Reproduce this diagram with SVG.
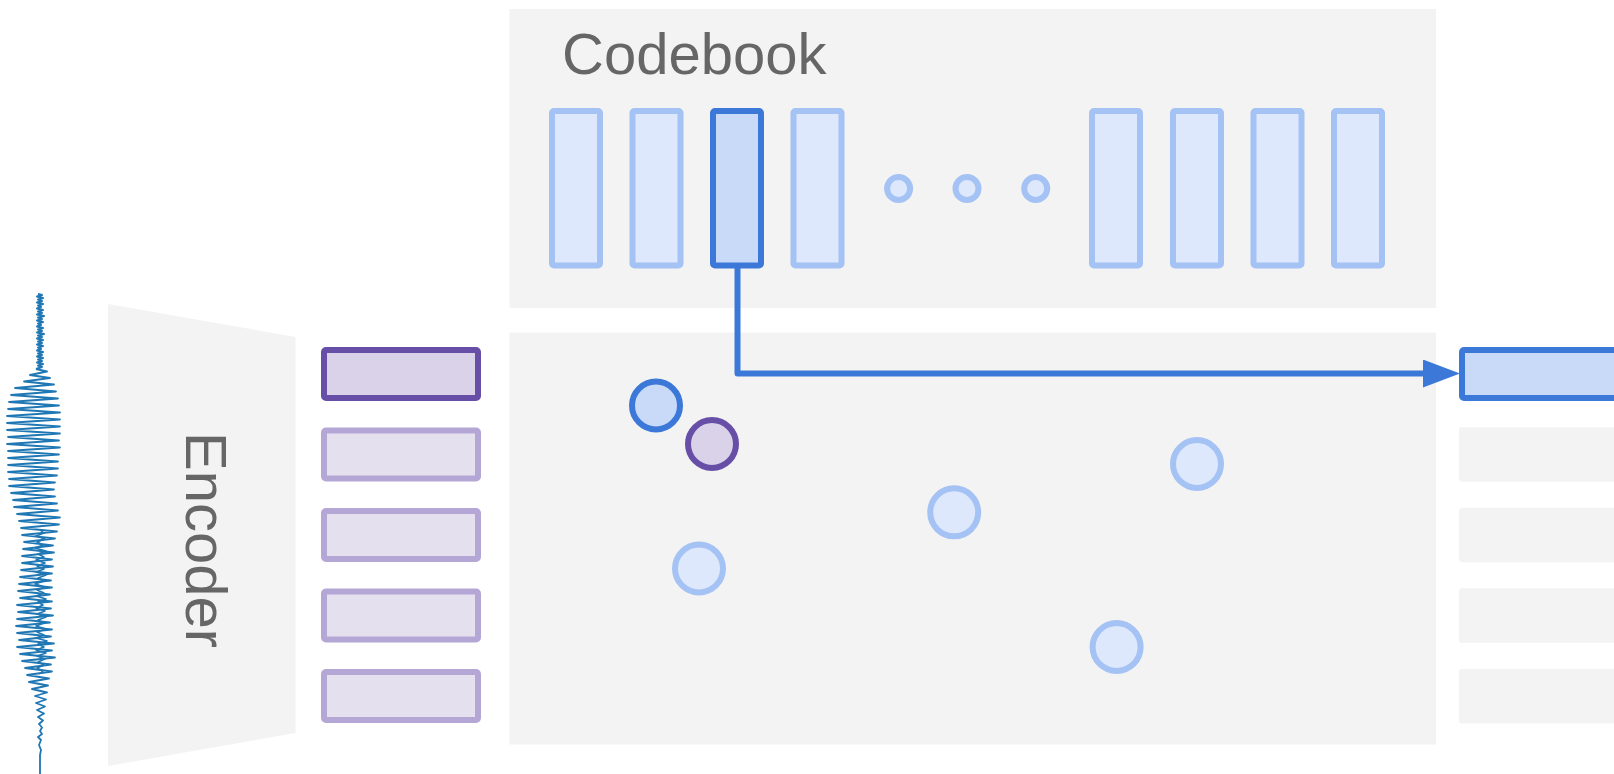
<svg xmlns="http://www.w3.org/2000/svg" width="1614" height="774" viewBox="0 0 1614 774">
<style>
.panel{fill:#f3f3f3;stroke:none}
.label{font-family:"Liberation Sans",Arial,sans-serif;font-size:58px;fill:#666666}
.cb{fill:#dde8fc;stroke:#a4c2f4;stroke-width:6;stroke-linejoin:round}
.cbsel{fill:#c9daf8;stroke:#3c78d8;stroke-width:6;stroke-linejoin:round}
.enc{fill:#e4e0ee;stroke:#b4a7d6;stroke-width:6;stroke-linejoin:round}
.encsel{fill:#d9d2e9;stroke:#674ea7;stroke-width:6;stroke-linejoin:round}
.out{fill:#f3f3f3;stroke:none}
.conn{fill:none;stroke:#3c78d8;stroke-width:6;stroke-linejoin:round}
.wave{fill:none;stroke:#1f77b4;stroke-linejoin:round}
</style>
<defs>
<marker id="arrow" viewBox="0 0 37 28" refX="0" refY="14" markerWidth="37" markerHeight="28" markerUnits="userSpaceOnUse" orient="auto">
<path d="M0,0 L37,14 L0,28 z" fill="#3c78d8"/>
</marker>
</defs>
<rect width="1614" height="774" fill="#ffffff"/>

<g id="waveform">
<path class="wave" stroke-width="2" d="M38,294 L42,295 L37,296.5 L43,298 L38,299.5 L42,301 L37,302.5 L43,304 L38,305.5 L41,307 L37,308.5 L43,310 L38,311.5 L42,313 L37,314.5 L44,316 L38,317.5 L42,319 L37,320.5 L43,322 L38,323.5 L41,325 L37,326.5 L43,328 L38,329.5 L42,331 L37,332.5 L44,334 L38,335.5 L42,337 L37,338.5 L43,340 L38,341.5 L42,343 L37,344.5 L43,346 L38,347.5 L41,349 L37,350.5 L43,352 L38,353.5 L42,355 L37,356.5 L43,358 L38,359.5 L42,361 L37,362.5 L43,364 L38,365.5 L42,367 L36,369"/>
<path class="wave" stroke-width="1.8" d="M36,369 L47,371.5 L30,375 L50,378 L24,381.5 L54,384.5 L15,388 L56,391.5 L11,395 L58,398.5 L9,402 L59,405.5 L8,409 L60,412.5 L7,416 L60,419.5 L7,423 L60,426.5 L7,430 L60,433.5 L8,437 L59,440.5 L7,444 L60,447.5 L8,451 L59,454.5 L8,458 L58,461.5 L8,465 L58,468.5 L8,472 L57,475.5 L9,479 L55,482.5 L9,486 L54,489.5 L11,493 L55,496.5 L13,500 L57,503.5 L14,507 L58,510.5 L17,514 L60,517.5 L19,521 L59,524.5 L21,528 L57,531.5 L22,535 L55,538.5 L24,542 L53,545.5 L23,549 L54,552.5 L22,556 L52,559.5 L22,563 L53,566.5 L21,570 L52,573.5 L20,577 L51,580.5 L19,584 L52,587.5 L18,591 L50,594.5 L20,598 L52,601.5 L17,605 L51,608.5 L18,612 L53,615.5 L17,619 L50,622.5 L16,626 L52,629.5 L17,633 L51,636.5 L19,640 L54,643.5 L17,647 L52,650.5 L20,654 L55,657.5 L22,661 L51,664.5 L25,668 L52,671.5 L27,675 L49,678.5 L29,682 L48,685.5 L32,689 L47,692.5 L35,696 L46,699.5 L36,703 L45,706.5 L37,710 L44,713.5 L38,717 L43,720.5 L39,724 L42,727.5 L40,731 L42,734 L38,737 L41,740 L39,745 L41,750 L40,755 L40,774"/>
<path class="wave" stroke-width="1.5" d="M40,530 L44,533 L36,536 L45,539 L37,542 L43,545 L35,548 L46,551 L38,554 L44,557 L36,560 L45,563 L37,566 L44,569 L36,572 L46,575 L38,578 L44,581 L35,584 L45,587 L37,590 L44,593 L36,596 L46,599 L38,602 L43,605 L36,608 L45,611 L37,614 L46,617 L38,620 L44,623 L36,626 L46,629 L37,632 L44,635 L36,638 L47,641 L38,644 L44,647 L36,650 L46,653 L37,656 L45,659 L38,662 L44,665 L37,668 L43,671 L39,674"/>
</g>

<g id="encoder">
<polygon class="panel" points="108,304 295.5,337 295.5,733 108,766"/>
<text class="label" text-anchor="middle" font-size="59" transform="translate(185.5,540) rotate(90)">Encoder</text>
</g>

<g id="encoder-outputs">
<rect class="encsel" x="324" y="350" width="154" height="48" rx="2"/>
<rect class="enc" x="324" y="430.5" width="154" height="48" rx="2"/>
<rect class="enc" x="324" y="511" width="154" height="48" rx="2"/>
<rect class="enc" x="324" y="591.5" width="154" height="48" rx="2"/>
<rect class="enc" x="324" y="672" width="154" height="48" rx="2"/>
</g>

<g id="codebook">
<rect class="panel" x="509.5" y="9" width="926.5" height="299"/>
<text class="label" x="562" y="73.5">Codebook</text>
<rect class="cb" x="552" y="111" width="48" height="154.5" rx="2"/>
<rect class="cb" x="632.5" y="111" width="48" height="154.5" rx="2"/>
<rect class="cbsel" x="713" y="111" width="48" height="154.5" rx="2"/>
<rect class="cb" x="793.5" y="111" width="48" height="154.5" rx="2"/>
<circle class="cb" cx="898.6" cy="188.4" r="11.5"/>
<circle class="cb" cx="967" cy="188.4" r="11.5"/>
<circle class="cb" cx="1035.7" cy="188.4" r="11.5"/>
<rect class="cb" x="1092" y="111" width="48" height="154.5" rx="2"/>
<rect class="cb" x="1173" y="111" width="48" height="154.5" rx="2"/>
<rect class="cb" x="1253.5" y="111" width="48" height="154.5" rx="2"/>
<rect class="cb" x="1334" y="111" width="48" height="154.5" rx="2"/>
</g>

<g id="embedding-space">
<rect class="panel" x="509.5" y="332.5" width="926.5" height="412"/>
<circle class="cbsel" cx="656" cy="405.5" r="24"/>
<circle class="encsel" cx="712" cy="444" r="24"/>
<circle class="cb" cx="699" cy="568.5" r="24"/>
<circle class="cb" cx="954.2" cy="512.3" r="24"/>
<circle class="cb" cx="1197" cy="464" r="24"/>
<circle class="cb" cx="1116.6" cy="647" r="24"/>
</g>

<g id="quantized-outputs">
<rect class="cbsel" x="1462" y="350" width="200" height="48" rx="2"/>
<rect class="out" x="1459" y="427.3" width="200" height="54.5" rx="3"/>
<rect class="out" x="1459" y="507.7" width="200" height="54.5" rx="3"/>
<rect class="out" x="1459" y="588.3" width="200" height="54.5" rx="3"/>
<rect class="out" x="1459" y="669" width="200" height="54.5" rx="3"/>
</g>

<g id="connectors">
<path class="conn" d="M737.5,268 V373.5 H1423" marker-end="url(#arrow)"/>
</g>
</svg>
